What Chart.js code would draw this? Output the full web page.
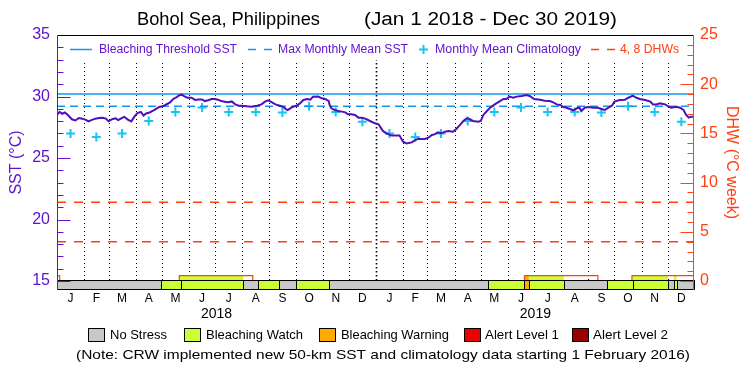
<!DOCTYPE html>
<html>
<head>
<meta charset="utf-8">
<script src="https://cdn.jsdelivr.net/npm/chart.js@4.4.1/dist/chart.umd.min.js"></script>
<style>
  html, body { margin: 0; padding: 0; background: #fff; }
  canvas { display: block; }
</style>
</head>
<body>
<canvas id="chart" width="750" height="375"></canvas>
<script>
// days are counted from 1 Jan 2018 (day 0) to 30 Dec 2019 (day 728)
const sstDay = [
  0, 3, 6, 9, 13, 17, 21, 25, 29, 33, 36, 40, 44, 48, 52, 56, 59, 63, 67, 70,
  74, 77, 81, 85, 89, 92, 96, 99, 102, 106, 110, 113, 117, 121, 125, 129, 133, 137, 140, 143,
  146, 149, 154, 158, 162, 166, 169, 173, 177, 181, 185, 188, 192, 196, 200, 204, 208, 211, 217, 223,
  229, 234, 238, 242, 246, 250, 255, 259, 262, 264, 267, 270, 274, 278, 282, 286, 290, 293, 299, 303,
  307, 311, 312, 314, 318, 322, 326, 330, 333, 337, 341, 345, 349, 352, 356, 360, 364, 368, 371, 373,
  377, 383, 392, 396, 400, 406, 410, 413, 421, 425, 429, 432, 436, 440, 444, 448, 453, 457, 461, 465,
  469, 472, 476, 482, 485, 488, 492, 495, 501, 507, 511, 514, 518, 522, 526, 532, 537, 541, 546, 553,
  558, 564, 568, 572, 576, 579, 583, 587, 591, 595, 598, 600, 604, 608, 614, 619, 623, 627, 631, 635,
  638, 644, 650, 654, 659, 663, 667, 673, 679, 682, 686, 690, 696, 700, 703, 709, 713, 717, 720, 723,
  726, 728
];
const sstValue = [
  28.5, 28.75, 28.6, 28.7, 28.45, 28.15, 28.05, 28.25, 28.2, 28.1, 27.98, 28.1, 28.2, 28.25, 28.28, 28.2, 27.98, 28.15, 28.22, 28.08,
  28.25, 28.35, 28.12, 27.98, 28.4, 28.65, 28.75, 28.45, 28.62, 28.7, 28.85, 28.98, 29.15, 29.2, 29.35, 29.5, 29.8, 29.95, 30.1, 30.15,
  30.0, 29.9, 29.9, 29.72, 29.75, 29.76, 29.63, 29.7, 29.8, 29.8, 29.72, 29.63, 29.58, 29.53, 29.6, 29.36, 29.25, 29.25, 29.2, 29.17,
  29.25, 29.36, 29.58, 29.69, 29.53, 29.36, 29.25, 29.15, 28.98, 28.9, 29.04, 29.17, 29.25, 29.44, 29.72, 29.8, 29.75, 29.99, 30.0, 29.85,
  29.8, 29.63, 29.31, 29.04, 28.9, 28.82, 28.77, 28.71, 28.55, 28.55, 28.5, 28.28, 28.28, 28.22, 28.09, 27.95, 27.82, 27.74, 27.41, 27.2,
  27.01, 26.82, 26.82, 26.33, 26.19, 26.27, 26.46, 26.55, 26.55, 26.65, 26.87, 26.92, 27.09, 27.01, 27.14, 27.2, 27.14, 27.36, 27.68, 28.01,
  28.22, 28.17, 28.01, 27.95, 28.01, 28.5, 28.82, 29.04, 29.36, 29.63, 29.8, 29.8, 29.99, 29.9, 29.99, 30.04, 30.12, 30.04, 29.8, 29.74,
  29.66, 29.63, 29.53, 29.36, 29.31, 29.17, 29.09, 28.98, 28.88, 29.04, 29.09, 28.82, 29.09, 29.15, 29.09, 29.09, 28.98, 28.9, 29.09, 29.25,
  29.58, 29.72, 29.74, 29.9, 30.07, 29.9, 29.8, 29.72, 29.58, 29.36, 29.36, 29.44, 29.36, 29.17, 29.09, 29.17, 29.09, 28.9, 28.5, 28.28,
  28.36, 28.36
];
const climMonthValue = [27.0, 26.7, 27.0, 28.0, 28.75, 29.1, 28.75, 28.75, 28.7, 29.2, 28.75, 27.95];
const maxMonthlyMean = 29.2;
const bleachingThreshold = 30.2;
const dhwRefLevels = [4, 8];
const dhwDay = [0, 3, 140, 224, 535, 619, 658, 729];
const dhwValue = [0.55, 0, 0.55, 0, 0.55, 0, 0.55, 0.55];
// stress level: 0 no stress, 1 watch, 2 warning, 3 alert 1, 4 alert 2
const stressStart = [0, 119, 142, 213, 230, 254, 273, 311, 493, 535, 540, 580, 630, 659, 699, 706, 709];
const stressEnd   = [119, 142, 213, 230, 254, 273, 311, 493, 535, 540, 580, 630, 659, 699, 706, 709, 729];
const stressLevel = [0, 1, 1, 0, 1, 0, 1, 0, 1, 2, 1, 0, 1, 1, 0, 1, 0];
const stressNames = ['No Stress', 'Bleaching Watch', 'Bleaching Warning', 'Alert Level 1', 'Alert Level 2'];
const monthLetters = ['J', 'F', 'M', 'A', 'M', 'J', 'J', 'A', 'S', 'O', 'N', 'D'];
const years = [2018, 2019];
const sstTicks = [15, 20, 25, 30, 35];
const dhwTicks = [0, 5, 10, 15, 20, 25];

const PURPLE = '#6014d0';
const SSTLINE = '#5010b8';
const BLUE = '#1496f0';
const CYAN = '#18c4f4';
const RED = '#ff4010';
const STRESS_COLORS = ['#c8c8c8', '#ccff33', '#ffaa00', '#ee0000', '#990000'];
const FONT = "'Liberation Sans', Arial, sans-serif";

// calendar helpers (month boundaries)
const day0 = Date.UTC(2018, 0, 1);
const monthStart = [];
years.forEach(y => { for (let m = 0; m < 12; m++) monthStart.push((Date.UTC(y, m, 1) - day0) / 864e5); });
monthStart.push((Date.UTC(2020, 0, 1) - day0) / 864e5);
const monthMid = monthStart.slice(0, -1).map((d, i) => (d + monthStart[i + 1]) / 2);
const yearMid = years.map((y, i) => (monthStart[i * 12] + monthStart[i * 12 + 12]) / 2);

Chart.defaults.font.family = FONT;

function fitText(ctx, text, x, y, width, size, color) {
  ctx.save();
  ctx.font = size + 'px ' + FONT;
  ctx.fillStyle = color;
  ctx.textBaseline = 'middle';
  ctx.textAlign = 'left';
  const w = ctx.measureText(text).width;
  ctx.translate(x, y);
  ctx.scale(width / w, 1);
  ctx.fillText(text, 0, 0);
  ctx.restore();
}

function hline(ctx, x0, x1, y, color, width, dash) {
  ctx.save();
  ctx.strokeStyle = color;
  ctx.lineWidth = width;
  ctx.setLineDash(dash || []);
  ctx.beginPath();
  ctx.moveTo(x0, y);
  ctx.lineTo(x1, y);
  ctx.stroke();
  ctx.restore();
}

const crwPlugin = {
  id: 'crw',
  beforeDraw(chart) {
    const ctx = chart.ctx;
    ctx.save();
    ctx.fillStyle = '#fff';
    ctx.fillRect(0, 0, chart.width, chart.height);
    ctx.restore();
  },
  beforeDatasetsDraw(chart) {
    const ctx = chart.ctx;
    const ca = chart.chartArea;
    const xs = chart.scales.x, y2 = chart.scales.y2;
    const zeroY = y2.getPixelForValue(0);

    // dotted month boundaries
    ctx.save();
    ctx.strokeStyle = '#000';
    monthStart.slice(1, -1).forEach(d => {
      const px = Math.round(xs.getPixelForValue(d)) + 0.5;
      const isYear = d === 365;
      ctx.lineWidth = isYear ? 1.6 : 1;
      ctx.setLineDash(isYear ? [1.5, 2.5] : [1, 3]);
      ctx.beginPath();
      ctx.moveTo(px, ca.top);
      ctx.lineTo(px, zeroY - 1);
      ctx.stroke();
    });
    ctx.restore();

    // white band behind the top legend
    ctx.save();
    ctx.fillStyle = '#fff';
    ctx.fillRect(ca.left + 1, ca.top + 1, ca.right - ca.left - 2, 24);
    ctx.restore();

    // stress colours under the DHW curve
    ctx.save();
    ctx.beginPath();
    ctx.moveTo(xs.getPixelForValue(dhwDay[0]), zeroY);
    for (let i = 0; i < dhwDay.length; i++) {
      const px = xs.getPixelForValue(dhwDay[i]);
      if (i > 0) ctx.lineTo(px, y2.getPixelForValue(dhwValue[i - 1]));
      ctx.lineTo(px, y2.getPixelForValue(dhwValue[i]));
    }
    ctx.lineTo(xs.getPixelForValue(dhwDay[dhwDay.length - 1]), zeroY);
    ctx.closePath();
    ctx.clip();
    stressStart.forEach((s, i) => {
      if (stressLevel[i] === 0) return;
      const x0 = xs.getPixelForValue(s), x1 = xs.getPixelForValue(stressEnd[i]);
      ctx.fillStyle = STRESS_COLORS[stressLevel[i]];
      ctx.fillRect(x0, ca.top, x1 - x0, zeroY - ca.top);
    });
    ctx.restore();
  },
  afterDatasetsDraw(chart) {
    const ctx = chart.ctx;
    const ca = chart.chartArea;
    const xs = chart.scales.x, ys = chart.scales.y, y2 = chart.scales.y2;
    const zeroY = Math.round(y2.getPixelForValue(0)) - 0.5;
    const botY = Math.round(ca.bottom) - 0.5;

    // stress strip (covers the DHW zero line)
    ctx.save();
    ctx.lineWidth = 1;
    ctx.strokeStyle = '#000';
    stressStart.forEach((s, i) => {
      const x0 = Math.round(xs.getPixelForValue(s)) + 0.5;
      const x1 = Math.round(xs.getPixelForValue(stressEnd[i])) + 0.5;
      ctx.fillStyle = STRESS_COLORS[stressLevel[i]];
      ctx.fillRect(x0, zeroY, x1 - x0, botY - zeroY + 0.5);
      ctx.strokeRect(x0, zeroY, x1 - x0, botY - zeroY);
    });
    ctx.restore();

    // frame
    const L = Math.round(ca.left) + 0.5, R = Math.round(ca.right) - 0.5, T = Math.round(ca.top) + 0.5;
    hline(ctx, L, R, T, '#000', 1);
    ctx.save();
    ctx.lineWidth = 1;
    ctx.strokeStyle = PURPLE;
    ctx.beginPath(); ctx.moveTo(L, T); ctx.lineTo(L, ca.bottom); ctx.stroke();
    ctx.strokeStyle = RED;
    ctx.beginPath(); ctx.moveTo(R, T); ctx.lineTo(R, ca.bottom); ctx.stroke();
    ctx.restore();

    // inward ticks
    for (let v = sstTicks[0]; v < sstTicks[sstTicks.length - 1]; v++) {
      const py = Math.round(ys.getPixelForValue(v)) + 0.5;
      hline(ctx, L, L + (v % 5 === 0 ? 13 : 6), py, PURPLE, 1);
    }
    for (let v = dhwTicks[0]; v < dhwTicks[dhwTicks.length - 1]; v++) {
      const py = Math.round(y2.getPixelForValue(v)) + 0.5;
      hline(ctx, R - (v % 5 === 0 ? 13 : 6), R, py, RED, 1);
    }

    // top legend
    const ly = 49.5;
    hline(ctx, 70, 92, ly, BLUE, 1.5);
    fitText(ctx, 'Bleaching Threshold SST', 99, ly, 138, 12, PURPLE);
    hline(ctx, 248, 256, ly, BLUE, 1.5);
    hline(ctx, 264, 272, ly, BLUE, 1.5);
    fitText(ctx, 'Max Monthly Mean SST', 278, ly, 130, 12, PURPLE);
    hline(ctx, 419, 428, ly, CYAN, 2);
    ctx.save();
    ctx.strokeStyle = CYAN; ctx.lineWidth = 2;
    ctx.beginPath(); ctx.moveTo(423.5, ly - 4.5); ctx.lineTo(423.5, ly + 4.5); ctx.stroke();
    ctx.restore();
    fitText(ctx, 'Monthly Mean Climatology', 435, ly, 146, 12, PURPLE);
    hline(ctx, 591, 599, ly, RED, 1.5);
    hline(ctx, 607, 615, ly, RED, 1.5);
    fitText(ctx, '4, 8 DHWs', 620, ly, 59, 12, RED);
  },
  afterDraw(chart) {
    const ctx = chart.ctx;
    // title
    fitText(ctx, 'Bohol Sea, Philippines', 137, 20, 183, 18, '#000');
    fitText(ctx, '(Jan 1 2018 - Dec 30 2019)', 364, 20, 253, 18, '#000');

    // stress legend
    const boxX = [88, 184, 319, 464, 572];
    const textX = [110, 206, 341, 485, 593];
    const textW = [57, 97, 108, 74, 75];
    ctx.save();
    ctx.lineWidth = 1;
    ctx.strokeStyle = '#000';
    stressNames.forEach((name, i) => {
      ctx.fillStyle = STRESS_COLORS[i];
      ctx.fillRect(boxX[i] + 0.5, 328.5, 16, 13);
      ctx.strokeRect(boxX[i] + 0.5, 328.5, 16, 13);
      fitText(ctx, name, textX[i], 335.5, textW[i], 13, '#000');
    });
    ctx.restore();
    fitText(ctx, '(Note: CRW implemented new 50-km SST and climatology data starting 1 February 2016)', 76, 355, 614, 13, '#000');
  }
};

const xy = (xa, ya) => xa.map((d, i) => ({ x: d, y: ya[i] }));

new Chart(document.getElementById('chart'), {
  type: 'line',
  data: {
    datasets: [
      { label: 'SST', data: xy(sstDay, sstValue), yAxisID: 'y', borderColor: SSTLINE, borderWidth: 2, pointRadius: 0, tension: 0 },
      { label: 'Bleaching Threshold SST', data: [{ x: 0, y: bleachingThreshold }, { x: 729, y: bleachingThreshold }], yAxisID: 'y', borderColor: BLUE, borderWidth: 1.5, pointRadius: 0 },
      { label: 'Max Monthly Mean SST', data: [{ x: 0, y: maxMonthlyMean }, { x: 729, y: maxMonthlyMean }], yAxisID: 'y', borderColor: BLUE, borderWidth: 1.5, borderDash: [8, 5], pointRadius: 0 },
      { label: 'Monthly Mean Climatology', data: monthMid.map((d, i) => ({ x: d, y: climMonthValue[i % 12] })), yAxisID: 'y', showLine: false, pointStyle: 'cross', pointRadius: 4.5, borderColor: CYAN, backgroundColor: CYAN, borderWidth: 2 },
      ...dhwRefLevels.map(v => ({ label: v + ' DHW', data: [{ x: 0, y: v }, { x: 729, y: v }], yAxisID: 'y2', borderColor: RED, borderWidth: 1.5, borderDash: [9, 8], pointRadius: 0 })),
      { label: 'DHW', data: xy(dhwDay, dhwValue), yAxisID: 'y2', stepped: true, borderColor: RED, borderWidth: 1.2, pointRadius: 0 }
    ]
  },
  options: {
    responsive: false,
    animation: false,
    devicePixelRatio: 1,
    layout: { padding: { top: 35, bottom: 48, left: 0, right: 0 } },
    plugins: { legend: { display: false }, tooltip: { enabled: false } },
    scales: {
      x: {
        type: 'linear', min: 0, max: 729, position: 'bottom',
        grid: { display: false, drawTicks: false }, border: { display: false },
        afterBuildTicks: s => { s.ticks = monthMid.map(v => ({ value: v })); },
        afterFit: s => { s.height = 17; },
        ticks: { autoSkip: false, maxRotation: 0, padding: 3, color: '#000', font: { size: 12, lineHeight: 1 },
                 callback: (v, i) => monthLetters[i % 12] }
      },
      xYear: {
        type: 'linear', min: 0, max: 729, position: 'bottom',
        grid: { display: false, drawTicks: false }, border: { display: false },
        afterBuildTicks: s => { s.ticks = yearMid.map(v => ({ value: v })); },
        afterFit: s => { s.height = 20; },
        ticks: { autoSkip: false, maxRotation: 0, padding: 0, color: '#000', font: { size: 14, lineHeight: 1 },
                 callback: (v, i) => String(years[i]) }
      },
      y: {
        position: 'left', min: 14.27, max: 35,
        grid: { display: false, drawTicks: false }, border: { display: false },
        afterBuildTicks: s => { s.ticks = sstTicks.map(v => ({ value: v })); },
        afterFit: s => { s.width = 57; },
        ticks: { padding: 7, color: PURPLE, font: { size: 16, lineHeight: 1 }, callback: v => String(v) },
        title: { display: true, text: 'SST (°C)', color: PURPLE, font: { size: 16, lineHeight: 1 }, padding: { top: 9, bottom: 0 } }
      },
      y2: {
        position: 'right', min: -0.91, max: 25,
        grid: { display: false, drawTicks: false }, border: { display: false },
        afterBuildTicks: s => { s.ticks = dhwTicks.map(v => ({ value: v })); },
        afterFit: s => { s.width = 56; },
        ticks: { padding: 6, color: RED, font: { size: 16, lineHeight: 1 }, callback: v => String(v) },
        title: { display: true, text: 'DHW (°C week)', color: RED, font: { size: 16, lineHeight: 1 }, padding: { top: 11, bottom: 0 } }
      }
    }
  },
  plugins: [crwPlugin]
});
</script>
</body>
</html>
